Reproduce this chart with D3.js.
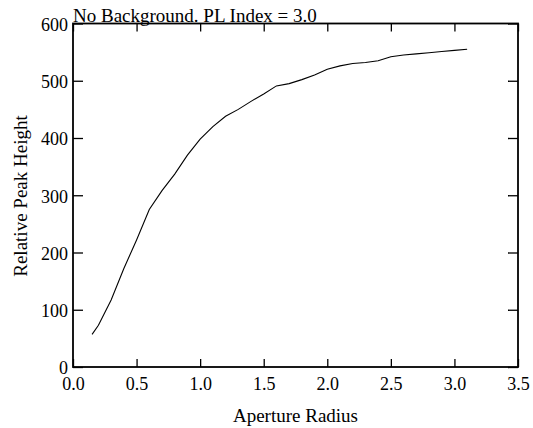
<!DOCTYPE html>
<html>
<head>
<meta charset="utf-8">
<script src="https://cdn.jsdelivr.net/npm/d3@7"></script>
<style>
  body { margin: 0; background: #fff; }
  svg text { font-family: "Liberation Serif", "Times New Roman", serif; fill: #000; }
</style>
</head>
<body>
<div id="chart"></div>
<script>
// aperture radius vs relative peak height
var radius = [0.15, 0.2, 0.3, 0.4, 0.5, 0.6, 0.7, 0.8, 0.9, 1.0, 1.1, 1.2, 1.3, 1.4, 1.5,
              1.6, 1.7, 1.8, 1.9, 2.0, 2.1, 2.2, 2.3, 2.4, 2.5, 2.6, 2.7, 2.8, 2.9, 3.0, 3.1]
var peakHeight = [57, 73, 117, 172, 222, 275, 308, 337, 370, 398, 420, 438, 450, 464, 477,
                  491, 495, 502, 510, 520, 526, 530, 532, 535, 542, 545, 547, 549, 551, 553, 555]
var xTicks = [0, 0.5, 1.0, 1.5, 2.0, 2.5, 3.0, 3.5]
var yTicks = [0, 100, 200, 300, 400, 500, 600]

var width = 533
var height = 428
var margin = { top: 23.5, right: 15, bottom: 61, left: 73 }
var innerW = width - margin.left - margin.right
var innerH = height - margin.top - margin.bottom
var serif = "Liberation Serif, Times New Roman, serif"

var svg = d3.select("#chart")
    .append("svg")
    .attr("width", width)
    .attr("height", height)

var g = svg.append("g")
    .attr("transform", "translate(" + margin.left + "," + margin.top + ")")

var x = d3.scaleLinear().domain([0, 3.5]).range([0, innerW])
var y = d3.scaleLinear().domain([0, 600]).range([innerH, 0])

// ticks point inwards on all four sides
var xAxisBottom = g.append("g")
    .attr("transform", "translate(0," + innerH + ")")
    .call(d3.axisBottom(x).tickValues(xTicks).tickFormat(d3.format(".1f"))
        .tickSizeInner(-8).tickSizeOuter(0).tickPadding(10))
var xAxisTop = g.append("g")
    .call(d3.axisTop(x).tickValues(xTicks).tickFormat("")
        .tickSizeInner(-8).tickSizeOuter(0))
var yAxisLeft = g.append("g")
    .call(d3.axisLeft(y).tickValues(yTicks)
        .tickSizeInner(-10).tickSizeOuter(0).tickPadding(5))
var yAxisRight = g.append("g")
    .attr("transform", "translate(" + innerW + ",0)")
    .call(d3.axisRight(y).tickValues(yTicks).tickFormat("")
        .tickSizeInner(-10).tickSizeOuter(0))

g.selectAll(".domain").remove()
g.selectAll(".tick line").attr("stroke", "#000").attr("stroke-width", 1.3)
;[xAxisBottom, xAxisTop, yAxisLeft, yAxisRight].forEach(function(a) {
    a.attr("font-family", serif).attr("font-size", 18)
})
g.selectAll(".tick text").attr("fill", "#000")
yAxisLeft.selectAll(".tick text").attr("dy", "0.38em")

// frame
g.append("rect")
    .attr("width", innerW)
    .attr("height", innerH)
    .attr("fill", "none")
    .attr("stroke", "#000")
    .attr("stroke-width", 1.8)

var line = d3.line()
    .x(function(d, i) { return x(radius[i]) })
    .y(function(d) { return y(d) })

g.append("path")
    .datum(peakHeight)
    .attr("d", line)
    .attr("fill", "none")
    .attr("stroke", "#000")
    .attr("stroke-width", 1.1)

svg.append("text")
    .attr("x", margin.left)
    .attr("y", 22)
    .attr("font-size", 19)
    .text("No Background. PL Index = 3.0")

svg.append("text")
    .attr("x", margin.left + innerW / 2)
    .attr("y", 422)
    .attr("text-anchor", "middle")
    .attr("font-size", 19)
    .text("Aperture Radius")

svg.append("text")
    .attr("transform", "translate(27,196) rotate(-90)")
    .attr("text-anchor", "middle")
    .attr("font-size", 19)
    .text("Relative Peak Height")
</script>
</body>
</html>
